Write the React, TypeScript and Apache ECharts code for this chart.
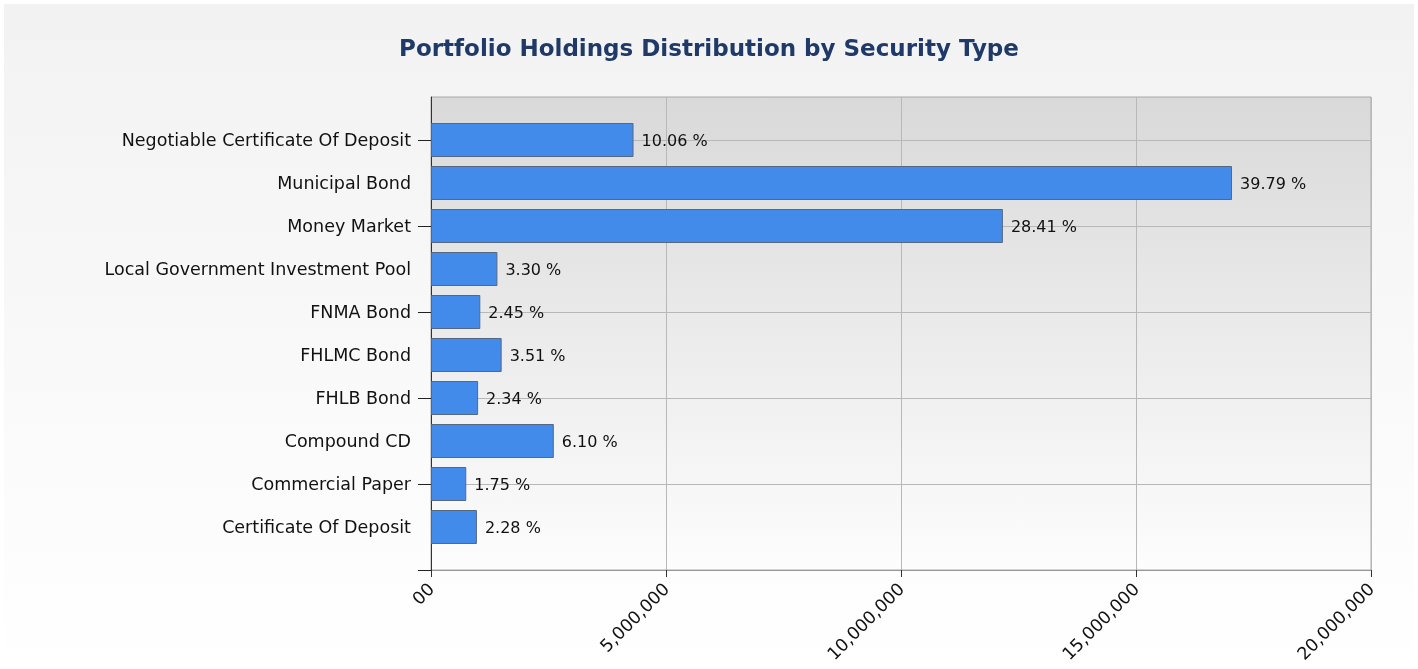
import React, { useEffect, useRef } from "react";
import * as echarts from "echarts";

const categories = [
  "Certificate Of Deposit",
  "Commercial Paper",
  "Compound CD",
  "FHLB Bond",
  "FHLMC Bond",
  "FNMA Bond",
  "Local Government Investment Pool",
  "Money Market",
  "Municipal Bond",
  "Negotiable Certificate Of Deposit",
];
const percents = [2.28, 1.75, 6.1, 2.34, 3.51, 2.45, 3.3, 28.41, 39.79, 10.06];
const values = [977000, 750000, 2613000, 1002000, 1503000, 1049000, 1413000, 12168000, 17043000, 4309000];
const xTicks = [0, 5000000, 10000000, 15000000, 20000000];

const FONT = "DejaVu Sans";

export default function App() {
  const ref = useRef<HTMLDivElement>(null);
  useEffect(() => {
    if (!ref.current) return;
    const chart = echarts.init(ref.current, null, { renderer: "svg" });
    const cats = ["", ...categories, ""];
    const data = [null, ...values.map((v, i) => ({ value: v, pct: percents[i] })), null];
    const everyOther = (i: number) => i % 2 === 0 && i < cats.length - 1;
    chart.setOption({
      animation: false,
      graphic: [
        {
          type: "rect",
          z: -10,
          silent: true,
          shape: { x: 4, y: 4, width: 1410, height: 665 },
          style: {
            fill: new echarts.graphic.LinearGradient(0, 0, 0, 1, [
              { offset: 0, color: "#f2f2f2" },
              { offset: 1, color: "#ffffff" },
            ]),
          },
        },
      ],
      title: {
        text: "Portfolio Holdings Distribution by Security Type",
        left: "center",
        top: 31,
        textStyle: { fontFamily: FONT, fontSize: 23, fontWeight: "bold", color: "#1f3a68" },
      },
      grid: {
        left: 431,
        right: 47,
        top: 97,
        bottom: 99,
        show: true,
        borderColor: "#a8a8a8",
        borderWidth: 1,
        backgroundColor: new echarts.graphic.LinearGradient(0, 0, 0, 1, [
          { offset: 0, color: "#d9d9d9" },
          { offset: 1, color: "#fdfdfd" },
        ]),
      },
      xAxis: {
        type: "value",
        min: xTicks[0],
        max: xTicks[xTicks.length - 1],
        interval: xTicks[1] - xTicks[0],
        axisLine: { show: true, lineStyle: { color: "#999999", width: 1 } },
        axisTick: { show: true, length: 7, lineStyle: { color: "#333333" } },
        splitLine: { show: true, lineStyle: { color: "#b8b8b8", width: 1 } },
        axisLabel: {
          rotate: 45,
          margin: 16,
          fontFamily: FONT,
          fontSize: 17.5,
          color: "#111111",
          formatter: (v: number) => (v === 0 ? "00" : v.toLocaleString("en-US")),
        },
      },
      yAxis: {
        type: "category",
        data: cats,
        boundaryGap: false,
        axisLine: { show: true, lineStyle: { color: "#333333", width: 1 } },
        axisTick: { show: true, interval: everyOther, length: 13, lineStyle: { color: "#222222" } },
        splitLine: { show: true, interval: everyOther, lineStyle: { color: "#b8b8b8", width: 1 } },
        axisLabel: {
          interval: 0,
          margin: 20,
          fontFamily: FONT,
          fontSize: 17.5,
          color: "#111111",
        },
      },
      series: [
        {
          type: "bar",
          data,
          barWidth: 34,
          itemStyle: { color: "#428bea", borderColor: "#56687f", borderWidth: 1 },
          label: {
            show: true,
            position: "right",
            distance: 8,
            fontFamily: FONT,
            fontSize: 16,
            color: "#111111",
            formatter: (p: any) => (p.data && p.data.pct != null ? p.data.pct.toFixed(2) + " %" : ""),
          },
        },
      ],
    });
    return () => chart.dispose();
  }, []);
  return (
    <div
      ref={ref}
      style={{ position: "fixed", left: 0, top: 0, width: 1418, height: 669 }}
    />
  );
}
